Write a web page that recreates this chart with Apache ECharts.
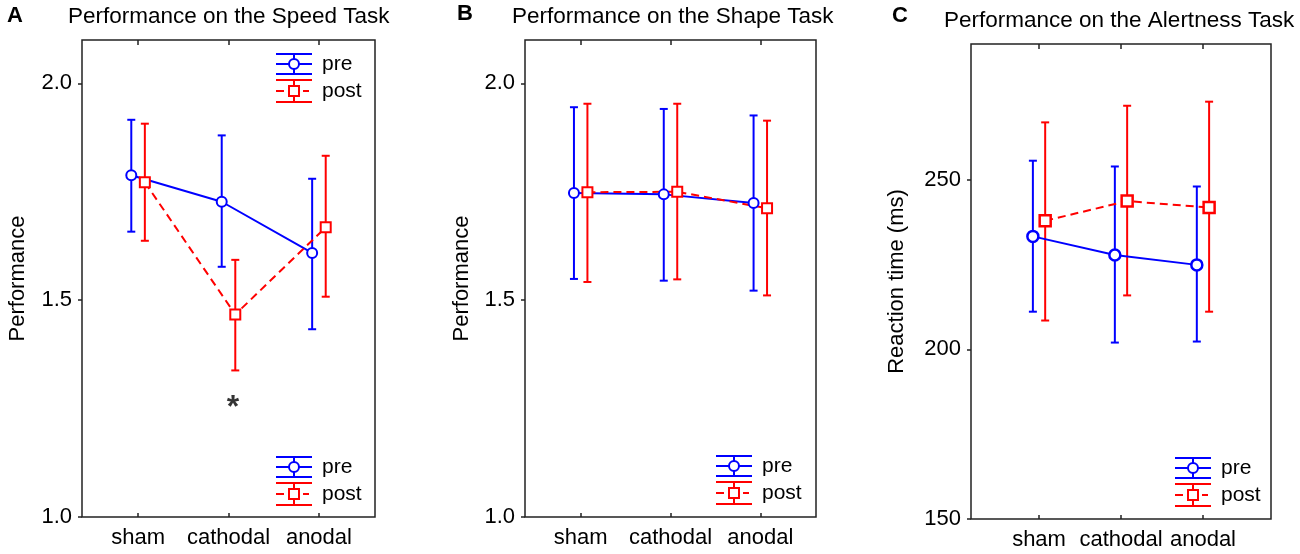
<!DOCTYPE html>
<html>
<head>
<meta charset="utf-8">
<script src="https://cdn.jsdelivr.net/npm/echarts@6/dist/echarts.min.js"></script>
<style>
  html, body { margin: 0; padding: 0; background: #fff; }
  #chart { width: 1300px; height: 554px; }
</style>
</head>
<body>
<div id="chart"></div>
<script>
// categories
var groups = ['sham', 'cathodal', 'anodal'];

// A: speed task (mean, lower and upper end of the bars)
var speedPreMean = [1.788, 1.727, 1.609];
var speedPreLow = [1.658, 1.577, 1.433];
var speedPreHigh = [1.916, 1.880, 1.780];
var speedPostMean = [1.772, 1.467, 1.668];
var speedPostLow = [1.637, 1.338, 1.508];
var speedPostHigh = [1.907, 1.593, 1.833];

// B: shape task
var shapePreMean = [1.747, 1.744, 1.724];
var shapePreLow = [1.549, 1.545, 1.522];
var shapePreHigh = [1.945, 1.941, 1.926];
var shapePostMean = [1.749, 1.750, 1.712];
var shapePostLow = [1.542, 1.548, 1.511];
var shapePostHigh = [1.953, 1.953, 1.914];

// C: alertness task (ms)
var alertPreMean = [233.3, 227.8, 224.9];
var alertPreLow = [211.1, 202.0, 202.3];
var alertPreHigh = [255.6, 253.9, 248.0];
var alertPostMean = [237.9, 243.7, 241.8];
var alertPostLow = [208.5, 215.9, 211.1];
var alertPostHigh = [266.9, 271.8, 273.0];

// tick labels
var perfTicks = [1.0, 1.5, 2.0];
var rtTicks = [150, 200, 250];
var catTicks = [1, 2, 3];

// significance star (cathodal post, panel A)
var starAt = [2.05, 1.25];

var BLUE = '#0000ff';
var RED = '#ff0000';
var AXIS = '#222';
var FONT = 'Liberation Sans, Arial, sans-serif';
var SHIFT = 0.075;

function errorBar(color) {
    return function (params, api) {
        var x = api.value(0);
        var top = api.coord([x, api.value(2)]);
        var bot = api.coord([x, api.value(1)]);
        var w = 4;
        var style = { stroke: color, lineWidth: 2 };
        return {
            type: 'group',
            children: [
                { type: 'line', shape: { x1: top[0], y1: top[1], x2: bot[0], y2: bot[1] }, style: style },
                { type: 'line', shape: { x1: top[0] - w, y1: top[1], x2: top[0] + w, y2: top[1] }, style: style },
                { type: 'line', shape: { x1: bot[0] - w, y1: bot[1], x2: bot[0] + w, y2: bot[1] }, style: style }
            ]
        };
    };
}

function barSeries(idx, off, low, high, color) {
    return {
        type: 'custom',
        xAxisIndex: idx,
        yAxisIndex: idx,
        renderItem: errorBar(color),
        encode: { x: 0, y: [1, 2] },
        data: groups.map(function (g, i) { return [i + 1 + off, low[i], high[i]]; }),
        z: 2
    };
}

function meanSeries(idx, off, mean, color, post, size) {
    return {
        type: 'line',
        xAxisIndex: idx,
        yAxisIndex: idx,
        data: groups.map(function (g, i) { return [i + 1 + off, mean[i]]; }),
        symbol: post ? 'rect' : 'circle',
        symbolSize: size,
        showSymbol: true,
        itemStyle: { color: '#fff', borderColor: color, borderWidth: size > 10 ? 2.5 : 2, opacity: 1 },
        lineStyle: { color: color, width: 2, type: post ? [8, 5] : 'solid' },
        z: 3
    };
}

function panelSeries(idx, preM, preL, preH, postM, postL, postH, size) {
    return [
        barSeries(idx, -SHIFT, preL, preH, BLUE),
        barSeries(idx, SHIFT, postL, postH, RED),
        meanSeries(idx, -SHIFT, preM, BLUE, false, size),
        meanSeries(idx, SHIFT, postM, RED, true, size)
    ];
}

// small pre/post key drawn like the error bar marks
function legendKey(cx, y0, tx) {
    var b = { stroke: BLUE, lineWidth: 2 };
    var r = { stroke: RED, lineWidth: 2 };
    var h = 18;
    function ln(x1, y1, x2, y2, s) {
        return { type: 'line', shape: { x1: x1, y1: y1, x2: x2, y2: y2 }, style: s, z: 10 };
    }
    return [
        ln(cx - h, y0, cx + h, y0, b),
        ln(cx - h, y0 + 10, cx + h, y0 + 10, b),
        ln(cx - h, y0 + 20, cx + h, y0 + 20, b),
        ln(cx, y0, cx, y0 + 20, b),
        { type: 'circle', shape: { cx: cx, cy: y0 + 10, r: 5 }, style: { fill: '#fff', stroke: BLUE, lineWidth: 2 }, z: 11 },
        ln(cx - h, y0 + 26, cx + h, y0 + 26, r),
        ln(cx - h, y0 + 48, cx + h, y0 + 48, r),
        ln(cx, y0 + 26, cx, y0 + 48, r),
        ln(cx - h, y0 + 37, cx - 10, y0 + 37, r),
        ln(cx + 9, y0 + 37, cx + 15, y0 + 37, r),
        { type: 'rect', shape: { x: cx - 5, y: y0 + 32, width: 10, height: 10 }, style: { fill: '#fff', stroke: RED, lineWidth: 2 }, z: 11 },
        { type: 'text', x: tx, y: y0 + 10, style: { text: 'pre', fill: '#000', font: '21px ' + FONT, verticalAlign: 'middle' }, z: 11 },
        { type: 'text', x: tx, y: y0 + 37, style: { text: 'post', fill: '#000', font: '21px ' + FONT, verticalAlign: 'middle' }, z: 11 }
    ];
}

function xBottom(idx, min, max) {
    return {
        type: 'value', gridIndex: idx, position: 'bottom', min: min, max: max,
        axisLine: { show: false },
        axisTick: { inside: true, length: 4, customValues: catTicks, lineStyle: { color: AXIS, width: 1.5 } },
        axisLabel: {
            customValues: catTicks, margin: 10, fontSize: 22, color: '#000',
            formatter: function (v) { return groups[Math.round(v) - 1]; }
        },
        splitLine: { show: false }
    };
}

function xTop(idx, min, max) {
    return {
        type: 'value', gridIndex: idx, position: 'top', min: min, max: max,
        axisLine: { show: false },
        axisTick: { inside: true, length: 5, customValues: catTicks, lineStyle: { color: AXIS, width: 1.5 } },
        axisLabel: { show: false },
        splitLine: { show: false }
    };
}

function yLeft(idx, min, max, ticks, name, gap, digits) {
    return {
        type: 'value', gridIndex: idx, min: min, max: max,
        name: name, nameLocation: 'middle', nameGap: gap,
        nameTextStyle: { fontSize: 22, color: '#000' },
        axisLine: { show: false },
        axisTick: { length: 4, customValues: ticks, lineStyle: { color: AXIS, width: 1.5 } },
        axisLabel: {
            customValues: ticks, margin: 10, fontSize: 22, color: '#000',
            formatter: function (v) { return v.toFixed(digits); }
        },
        splitLine: { show: false }
    };
}

var titleStyle = { fontSize: 22.5, fontWeight: 'normal', color: '#000' };
var letterStyle = { fontSize: 22, fontWeight: 'bold', color: '#000' };

var option = {
    animation: false,
    backgroundColor: '#fff',
    textStyle: { fontFamily: FONT },
    title: [
        { text: 'A', left: 7, top: 5, padding: 0, textStyle: letterStyle },
        { text: 'Performance on the Speed Task', left: 68, top: 5, padding: 0, textStyle: titleStyle },
        { text: 'B', left: 457, top: 3, padding: 0, textStyle: letterStyle },
        { text: 'Performance on the Shape Task', left: 512, top: 5, padding: 0, textStyle: titleStyle },
        { text: 'C', left: 892, top: 5, padding: 0, textStyle: letterStyle },
        { text: 'Performance on the Alertness Task', left: 944, top: 9, padding: 0, textStyle: titleStyle }
    ],
    grid: [
        { left: 82, top: 40, width: 293, height: 477, show: true, borderColor: AXIS, borderWidth: 1.5 },
        { left: 525, top: 40, width: 291, height: 477, show: true, borderColor: AXIS, borderWidth: 1.5 },
        { left: 971, top: 44, width: 300, height: 475, show: true, borderColor: AXIS, borderWidth: 1.5 }
    ],
    xAxis: [
        xBottom(0, 0.38, 3.62), xBottom(1, 0.38, 3.62), xBottom(2, 0.17, 3.83),
        xTop(0, 0.38, 3.62), xTop(1, 0.38, 3.62), xTop(2, 0.17, 3.83)
    ],
    yAxis: [
        yLeft(0, 1.0, 2.1, perfTicks, 'Performance', 53, 1),
        yLeft(1, 1.0, 2.1, perfTicks, 'Performance', 52, 1),
        yLeft(2, 150, 290, rtTicks, 'Reaction time (ms)', 63, 0)
    ],
    series: [].concat(
        panelSeries(0, speedPreMean, speedPreLow, speedPreHigh, speedPostMean, speedPostLow, speedPostHigh, 10),
        panelSeries(1, shapePreMean, shapePreLow, shapePreHigh, shapePostMean, shapePostLow, shapePostHigh, 10),
        panelSeries(2, alertPreMean, alertPreLow, alertPreHigh, alertPostMean, alertPostLow, alertPostHigh, 11),
        [{
            type: 'scatter',
            xAxisIndex: 0,
            yAxisIndex: 0,
            data: [starAt],
            symbolSize: 0,
            silent: true,
            label: {
                show: true, position: 'inside', formatter: '*',
                fontSize: 32, fontWeight: 'bold', color: '#000'
            },
            z: 5
        }]
    ),
    graphic: [].concat(
        legendKey(294, 54, 322),
        legendKey(294, 457, 322),
        legendKey(734, 456, 762),
        legendKey(1193, 458, 1221)
    )
};

var myChart = echarts.init(document.getElementById('chart'));
myChart.setOption(option);
</script>
</body>
</html>
